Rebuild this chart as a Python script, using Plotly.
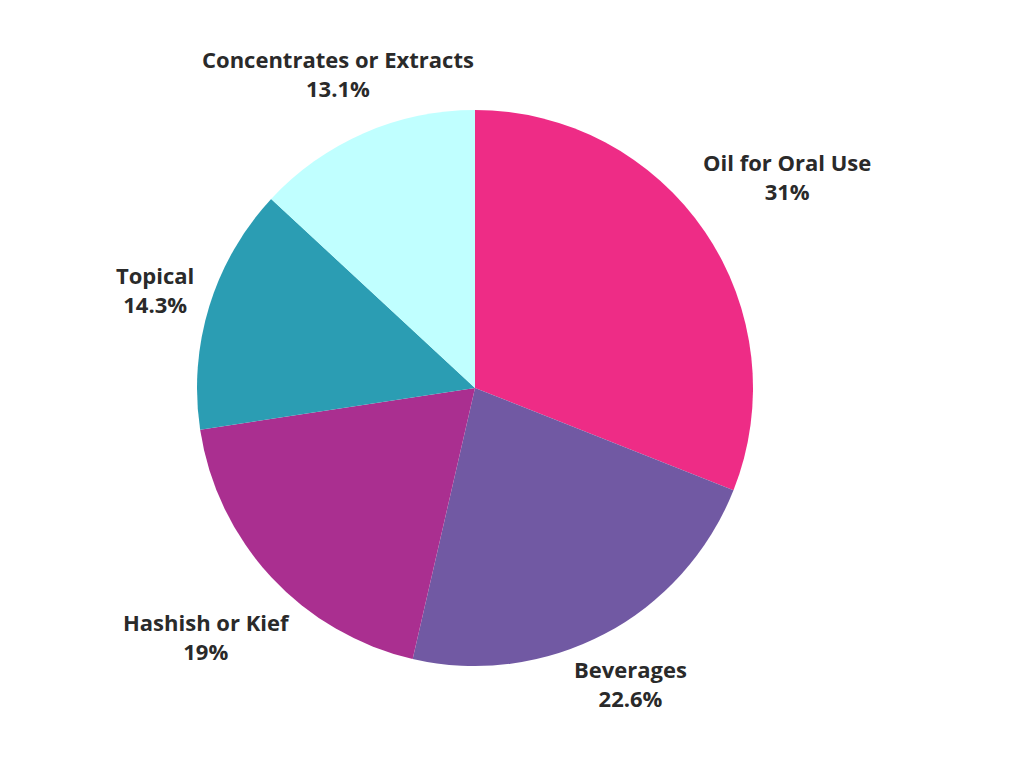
import math
import plotly.graph_objects as go

labels = ["Oil for Oral Use", "Beverages", "Hashish or Kief", "Topical", "Concentrates or Extracts"]
values = [31, 22.6, 19, 14.3, 13.1]
colors = ["#EE2C86", "#7159A3", "#AA2F90", "#2B9DB3", "#C0FFFF"]

FONT = "Open Sans"
FSIZE = 22
PLOT = 556.0          # plot area size in px (square)
GAP = 12.0 / PLOT      # gap between pie edge and nearest label corner
CHAR_W = 11.2 / PLOT   # approx bold char width
BOX_H = 50.0 / PLOT

fig = go.Figure(go.Pie(
    labels=labels,
    values=values,
    sort=False,
    direction="clockwise",
    rotation=0,
    marker=dict(colors=colors, line=dict(width=0)),
    textinfo="none",
    showlegend=False,
    hoverinfo="label+percent",
))

# place labels along each slice's mid-angle, outside the pie
total = sum(values)
R = 0.5
target = R + GAP
cum = 0.0
annotations = []
for lab, val in zip(labels, values):
    mid = (cum + val / 2) / total
    cum += val
    th = 2 * math.pi * mid
    sx, sy = math.sin(th), math.cos(th)
    w = len(lab) * CHAR_W
    h = BOX_H
    lo, hi = 0.0, 2.0
    for _ in range(60):
        d = (lo + hi) / 2
        cx, cy = d * sx, d * sy
        kx = cx - math.copysign(w / 2, sx)
        ky = cy - math.copysign(h / 2, sy)
        if math.hypot(kx, ky) < target:
            lo = d
        else:
            hi = d
    txt = "<b>%s</b><br><b>%s%%</b>" % (lab, ("%g" % val))
    annotations.append(dict(
        x=0.5 + d * sx, y=0.5 + d * sy, xref="paper", yref="paper",
        text=txt, showarrow=False, xanchor="center", yanchor="middle",
        align="center",
        font=dict(family=FONT, size=FSIZE, color="#2a2a2a"),
    ))

fig.update_layout(
    width=1024, height=768,
    margin=dict(l=189, r=279, t=102, b=110),
    paper_bgcolor="white",
    plot_bgcolor="white",
    annotations=annotations,
)

fig.write_html("out.html")
